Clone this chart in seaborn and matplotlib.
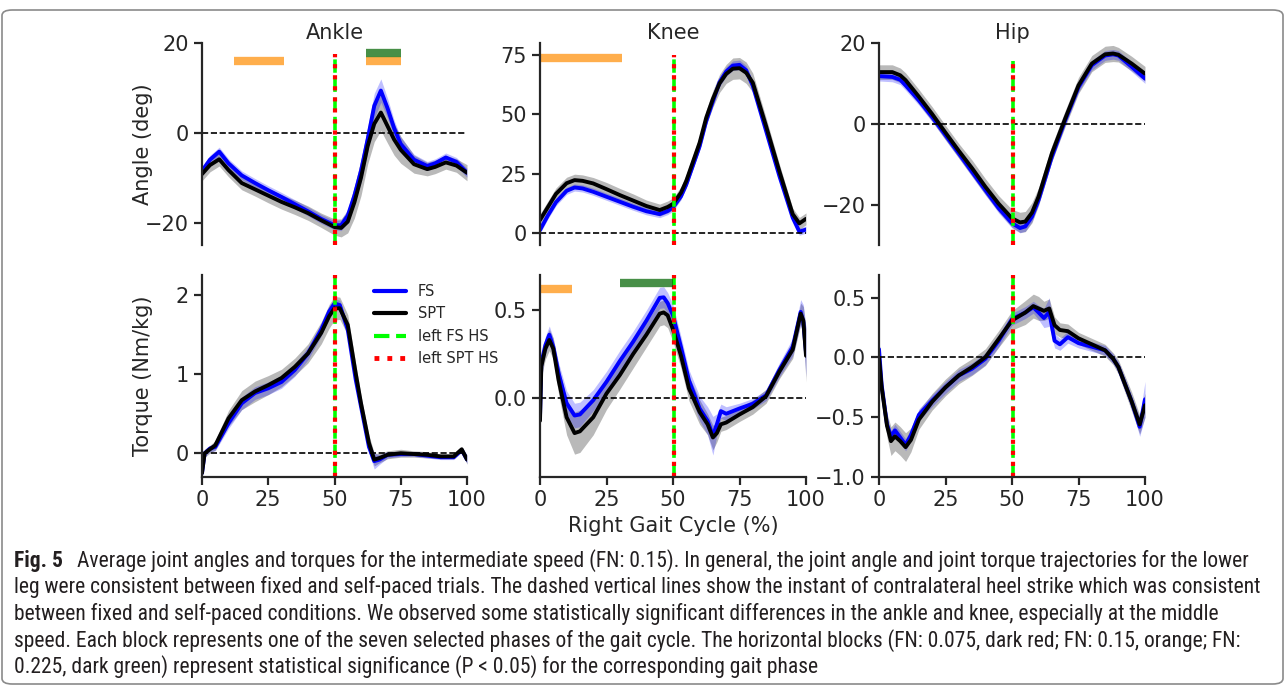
import numpy as np
import matplotlib
matplotlib.use('Agg')
import matplotlib.pyplot as plt
import seaborn as sns
from matplotlib import font_manager
from matplotlib.patches import FancyBboxPatch
from matplotlib.lines import Line2D

""" data read off the figure (mean and spread, FS vs SPT) """

# ankle angle (deg)
ank_ang_x = [0, 3, 6.5, 10, 15, 20, 25, 30, 35, 40, 45, 50, 52.5, 55, 57.5, 60, 62.5, 65, 67.5, 70, 72.5, 75, 80, 85, 88, 92, 96, 100]
ank_ang_fs = [-8.5, -6.0, -4.2, -6.8, -9.5, -11.2, -12.8, -14.3, -15.9, -17.5, -19.2, -20.6, -20.6, -18.5, -14.0, -8.5, -1.5, 6.0, 9.4, 5.5, 1.0, -2.5, -6.0, -7.4, -6.8, -5.5, -6.5, -8.9]
ank_ang_spt = [-9.2, -7.2, -5.9, -8.3, -11.2, -12.6, -14.0, -15.4, -16.6, -17.9, -19.5, -21.0, -21.2, -19.8, -15.5, -10.0, -3.0, 2.0, 4.5, 1.5, -1.5, -3.8, -7.0, -8.1, -7.6, -6.6, -7.3, -8.9]
ank_ang_fs_sd = [1.0, 1.0, 1.0, 1.0, 1.0, 1.0, 1.0, 1.0, 1.0, 1.0, 1.0, 1.0, 1.2, 1.5, 2.0, 2.5, 2.8, 2.8, 2.6, 2.2, 1.8, 1.5, 1.2, 1.0, 1.0, 1.0, 1.0, 1.0]
ank_ang_spt_sd = [1.5, 1.5, 1.5, 1.5, 1.5, 1.5, 1.6, 1.6, 1.6, 1.6, 1.6, 1.8, 2.0, 2.5, 3.5, 4.0, 4.0, 4.0, 4.0, 3.8, 3.5, 3.0, 2.0, 1.5, 1.5, 1.5, 1.5, 1.8]

# knee angle (deg)
kne_ang_x = [0, 3, 6, 10, 13, 16, 20, 25, 30, 35, 40, 45, 48, 50, 53, 55, 60, 62.5, 65, 67.5, 70, 72.5, 75, 77.5, 80, 85, 90, 95, 97.5, 100]
kne_ang_fs = [1.3, 7.5, 13.0, 17.8, 19.2, 18.8, 17.4, 15.3, 13.2, 11.1, 9.2, 8.0, 9.3, 10.8, 15.5, 20.5, 36.5, 47.2, 55.5, 63.5, 68.0, 70.5, 70.8, 68.5, 62.0, 43.0, 24.0, 6.5, 0.6, 1.5]
kne_ang_spt = [5.5, 11.0, 16.5, 21.0, 22.3, 22.0, 20.9, 18.5, 16.0, 13.7, 11.4, 9.7, 11.0, 12.3, 17.0, 22.0, 38.0, 48.6, 56.5, 63.0, 67.0, 69.2, 69.4, 67.5, 63.3, 45.0, 26.0, 8.0, 4.1, 6.0]
kne_ang_fs_sd = [1.5, 1.5, 1.5, 1.5, 1.5, 1.5, 1.5, 1.5, 1.5, 1.5, 1.5, 1.5, 1.5, 1.5, 1.5, 1.5, 1.5, 1.6, 1.8, 1.9, 2.0, 2.0, 2.0, 2.0, 2.0, 1.8, 1.5, 1.5, 1.5, 1.5]
kne_ang_spt_sd = [2.5, 2.5, 2.5, 2.5, 2.5, 2.5, 2.5, 2.8, 2.8, 2.8, 2.5, 2.5, 2.5, 2.5, 2.5, 2.8, 3.0, 3.2, 3.5, 3.8, 4.0, 4.5, 4.5, 4.5, 4.0, 3.5, 3.0, 2.5, 2.5, 2.5]

# hip angle (deg)
hip_ang_x = [0, 5, 8, 10, 15, 20, 25, 30, 35, 40, 45, 50, 53, 55, 57.5, 60, 65, 70, 75, 80, 85, 88, 90, 95, 100]
hip_ang_fs = [11.8, 11.6, 10.9, 9.5, 5.8, 1.7, -2.8, -7.3, -11.9, -16.4, -20.9, -24.6, -25.8, -25.4, -23.0, -18.8, -8.1, 0.9, 9.1, 14.5, 16.9, 17.2, 16.9, 14.1, 11.2]
hip_ang_spt = [12.8, 12.8, 12.0, 10.8, 6.7, 2.4, -2.2, -6.7, -11.0, -15.6, -19.8, -23.4, -24.4, -24.2, -22.0, -18.0, -7.3, 1.3, 9.5, 14.9, 17.2, 17.4, 17.1, 14.9, 12.4]
hip_ang_fs_sd = [1.2, 1.2, 1.2, 1.2, 1.2, 1.2, 1.2, 1.2, 1.2, 1.2, 1.2, 1.2, 1.2, 1.2, 1.2, 1.2, 1.2, 1.2, 1.2, 1.2, 1.2, 1.2, 1.2, 1.2, 1.2]
hip_ang_spt_sd = [1.8, 1.8, 1.8, 1.8, 1.8, 1.8, 1.8, 1.8, 2.0, 2.0, 2.0, 2.2, 2.5, 2.5, 2.5, 2.2, 2.0, 2.0, 2.0, 2.0, 2.0, 2.0, 1.8, 1.8, 1.8]

# ankle torque (Nm/kg)
ank_trq_x = [0, 1, 3, 5, 10, 15, 20, 25, 30, 35, 40, 45, 48, 50, 52, 55, 58, 60, 63, 65, 67, 70, 75, 80, 85, 90, 95, 98, 100]
ank_trq_fs = [-0.25, 0.0, 0.06, 0.08, 0.38, 0.63, 0.76, 0.82, 0.90, 1.05, 1.26, 1.56, 1.79, 1.89, 1.87, 1.56, 0.93, 0.59, 0.08, -0.10, -0.08, -0.02, -0.01, -0.01, -0.03, -0.05, -0.05, 0.04, -0.08]
ank_trq_spt = [-0.25, 0.0, 0.05, 0.10, 0.44, 0.67, 0.78, 0.86, 0.95, 1.09, 1.26, 1.52, 1.73, 1.83, 1.83, 1.62, 1.01, 0.63, 0.13, -0.08, -0.06, -0.02, 0.0, -0.01, -0.02, -0.04, -0.04, 0.05, -0.08]
ank_trq_fs_sd = [0.05, 0.04, 0.04, 0.05, 0.07, 0.08, 0.08, 0.08, 0.08, 0.08, 0.08, 0.08, 0.07, 0.06, 0.06, 0.07, 0.08, 0.08, 0.08, 0.10, 0.06, 0.04, 0.03, 0.03, 0.03, 0.03, 0.03, 0.03, 0.05]
ank_trq_spt_sd = [0.08, 0.05, 0.05, 0.06, 0.10, 0.12, 0.13, 0.12, 0.11, 0.11, 0.12, 0.14, 0.15, 0.15, 0.14, 0.13, 0.12, 0.10, 0.10, 0.08, 0.06, 0.05, 0.05, 0.04, 0.04, 0.03, 0.03, 0.03, 0.06]

# knee torque (Nm/kg)
kne_trq_x = [0, 0.5, 2, 3.5, 5, 7, 10, 13, 15, 20, 25, 30, 35, 40, 45, 46.5, 48, 50, 53, 56, 60, 63, 65, 66.5, 68, 70, 75, 80, 85, 90, 95, 98, 99, 100]
kne_trq_fs = [-0.11, 0.20, 0.30, 0.36, 0.29, 0.14, -0.03, -0.10, -0.094, -0.013, 0.092, 0.21, 0.32, 0.44, 0.57, 0.573, 0.54, 0.47, 0.29, 0.10, -0.06, -0.13, -0.215, -0.15, -0.075, -0.09, -0.06, -0.033, 0.015, 0.16, 0.29, 0.49, 0.43, 0.26]
kne_trq_spt = [-0.13, 0.18, 0.28, 0.33, 0.28, 0.10, -0.11, -0.20, -0.19, -0.11, 0.025, 0.13, 0.25, 0.36, 0.48, 0.487, 0.47, 0.39, 0.24, 0.054, -0.08, -0.15, -0.225, -0.20, -0.15, -0.14, -0.094, -0.052, 0.01, 0.15, 0.275, 0.48, 0.44, 0.24]
kne_trq_fs_sd = [0.05, 0.05, 0.05, 0.05, 0.05, 0.06, 0.07, 0.07, 0.07, 0.06, 0.06, 0.06, 0.06, 0.06, 0.06, 0.06, 0.06, 0.06, 0.06, 0.06, 0.07, 0.08, 0.11, 0.06, 0.04, 0.04, 0.03, 0.03, 0.03, 0.04, 0.05, 0.07, 0.10, 0.14]
kne_trq_spt_sd = [0.10, 0.06, 0.06, 0.06, 0.06, 0.08, 0.10, 0.12, 0.12, 0.10, 0.09, 0.08, 0.08, 0.07, 0.07, 0.07, 0.07, 0.07, 0.07, 0.07, 0.07, 0.06, 0.07, 0.05, 0.04, 0.04, 0.04, 0.04, 0.04, 0.04, 0.05, 0.06, 0.08, 0.15]

# hip torque (Nm/kg)
hip_trq_x = [0, 1, 3, 4.5, 6, 8, 10, 12, 15, 20, 25, 30, 35, 40, 45, 50, 55, 58, 60, 62, 64, 66, 68, 71, 75, 80, 85, 88, 90, 95, 98, 100]
hip_trq_fs = [0.07, -0.23, -0.56, -0.66, -0.61, -0.67, -0.73, -0.65, -0.48, -0.36, -0.25, -0.15, -0.094, -0.011, 0.14, 0.32, 0.376, 0.42, 0.376, 0.33, 0.38, 0.14, 0.11, 0.17, 0.12, 0.09, 0.06, -0.01, -0.08, -0.37, -0.58, -0.35]
hip_trq_spt = [0.0, -0.25, -0.57, -0.70, -0.66, -0.70, -0.75, -0.69, -0.52, -0.37, -0.25, -0.15, -0.08, 0.003, 0.155, 0.31, 0.376, 0.43, 0.41, 0.39, 0.41, 0.27, 0.23, 0.22, 0.16, 0.11, 0.06, -0.01, -0.08, -0.37, -0.56, -0.40]
hip_trq_fs_sd = [0.10, 0.05, 0.05, 0.05, 0.05, 0.05, 0.05, 0.05, 0.05, 0.05, 0.05, 0.05, 0.05, 0.05, 0.05, 0.05, 0.05, 0.05, 0.06, 0.08, 0.12, 0.06, 0.05, 0.05, 0.04, 0.04, 0.04, 0.04, 0.04, 0.05, 0.08, 0.15]
hip_trq_spt_sd = [0.06, 0.07, 0.10, 0.12, 0.12, 0.12, 0.12, 0.10, 0.08, 0.07, 0.07, 0.07, 0.07, 0.07, 0.07, 0.08, 0.10, 0.10, 0.10, 0.08, 0.08, 0.07, 0.06, 0.06, 0.05, 0.05, 0.05, 0.05, 0.06, 0.08, 0.08, 0.10]

# contralateral heel strike (% gait) and significant phases (start, end, FN level)
left_hs = 50.3
ank_ang_blocks = [(12, 31, 'FN 0.15'), (62, 75, 'FN 0.15'), (62, 75, 'FN 0.225')]
kne_ang_blocks = [(0, 12, 'FN 0.15'), (12, 31, 'FN 0.15')]
kne_trq_blocks = [(0, 12, 'FN 0.15'), (30, 50, 'FN 0.225')]

titles = ['Ankle', 'Knee', 'Hip']
ylabels = ['Angle (deg)', 'Torque (Nm/kg)']

caption_lines = [
    'Average joint angles and torques for the intermediate speed (FN: 0.15). In general, the joint angle and joint torque trajectories for the lower',
    'leg were consistent between fixed and self-paced trials. The dashed vertical lines show the instant of contralateral heel strike which was consistent',
    'between fixed and self-paced conditions. We observed some statistically significant differences in the ankle and knee, especially at the middle',
    'speed. Each block represents one of the seven selected phases of the gait cycle. The horizontal blocks (FN: 0.075, dark red; FN: 0.15, orange; FN:',
    '0.225, dark green) represent statistical significance (P < 0.05) for the corresponding gait phase',
]

""" plot """

sns.set_style('ticks')
plt.rcParams['font.family'] = ['DejaVu Sans']

block_colors = {'FN 0.15': ('darkorange', 0.7), 'FN 0.225': ('darkgreen', 0.72)}

panels = [
    dict(x=ank_ang_x, fs=ank_ang_fs, spt=ank_ang_spt, fs_sd=ank_ang_fs_sd, spt_sd=ank_ang_spt_sd,
         ylim=(-25, 20), yticks=[-20, 0, 20], hs_top=17.5, blocks=ank_ang_blocks,
         levels={'FN 0.15': 16.1, 'FN 0.225': 17.8}),
    dict(x=kne_ang_x, fs=kne_ang_fs, spt=kne_ang_spt, fs_sd=kne_ang_fs_sd, spt_sd=kne_ang_spt_sd,
         ylim=(-5, 80), yticks=[0, 25, 50, 75], hs_top=75, blocks=kne_ang_blocks,
         levels={'FN 0.15': 73.5}),
    dict(x=hip_ang_x, fs=hip_ang_fs, spt=hip_ang_spt, fs_sd=hip_ang_fs_sd, spt_sd=hip_ang_spt_sd,
         ylim=(-30, 20), yticks=[-20, 0, 20], hs_top=15.5, blocks=[], levels={}),
    dict(x=ank_trq_x, fs=ank_trq_fs, spt=ank_trq_spt, fs_sd=ank_trq_fs_sd, spt_sd=ank_trq_spt_sd,
         ylim=(-0.3, 2.25), yticks=[0, 1, 2], hs_top=None, blocks=[], levels={}),
    dict(x=kne_trq_x, fs=kne_trq_fs, spt=kne_trq_spt, fs_sd=kne_trq_fs_sd, spt_sd=kne_trq_spt_sd,
         ylim=(-0.45, 0.7), yticks=[0.0, 0.5], hs_top=None, blocks=kne_trq_blocks,
         levels={'FN 0.15': 0.62, 'FN 0.225': 0.656}),
    dict(x=hip_trq_x, fs=hip_trq_fs, spt=hip_trq_spt, fs_sd=hip_trq_fs_sd, spt_sd=hip_trq_spt_sd,
         ylim=(-1.0, 0.69), yticks=[-1.0, -0.5, 0.0, 0.5], hs_top=None, blocks=[], levels={}),
]

fig = plt.figure(figsize=(12.87, 6.87), dpi=100)

# axes boxes in pixels (left, top, right, bottom) of the original layout
W, H = 1287, 687
lefts = [202, 540, 879]
rights = [467, 806, 1145]
rows = [(43, 245), (275, 477)]

axes = []
for i, p in enumerate(panels):
    r, c = divmod(i, 3)
    top, bot = rows[r]
    ax = fig.add_axes([lefts[c] / W, 1 - bot / H, (rights[c] - lefts[c]) / W, (bot - top) / H])
    axes.append(ax)

    x = np.array(p['x'])
    fs, spt = np.array(p['fs']), np.array(p['spt'])
    fs_sd, spt_sd = np.array(p['fs_sd']), np.array(p['spt_sd'])

    ax.fill_between(x, spt - spt_sd, spt + spt_sd, color='gray', alpha=0.55, lw=0)
    ax.fill_between(x, fs - fs_sd, fs + fs_sd, color='blue', alpha=0.25, lw=0)
    sns.lineplot(x=x, y=fs, color='blue', lw=2.8, ax=ax, legend=False)
    sns.lineplot(x=x, y=spt, color='black', lw=2.8, ax=ax, legend=False)

    ax.axhline(0, color='black', ls='--', lw=1.2)

    ylo, yhi = p['ylim']
    top_y = p['hs_top'] if p['hs_top'] is not None else yhi
    ax.vlines(left_hs, ylo, top_y, color='lime', ls='--', lw=2.6)
    ax.vlines(left_hs, ylo, top_y, color='red', ls=':', lw=3.0)

    for start, end, lvl in p['blocks']:
        col, a = block_colors[lvl]
        ax.plot([start, end], [p['levels'][lvl]] * 2, color=col, alpha=a, lw=6, solid_capstyle='butt')

    ax.set_xlim(0, 100)
    ax.set_ylim(ylo, yhi)
    ax.set_yticks(p['yticks'])
    ax.set_xlabel('')
    ax.set_ylabel('')
    sns.despine(ax=ax)
    for s in ['left', 'bottom']:
        ax.spines[s].set_linewidth(1.6)
    ax.tick_params(labelsize=15, width=1.6, length=6)
    if r == 0:
        ax.spines['bottom'].set_visible(False)
        ax.set_xticks([])
        ax.set_title(titles[c], fontsize=15, pad=3)
    else:
        ax.set_xticks([0, 25, 50, 75, 100])
    if c == 0:
        ax.set_ylabel(ylabels[r], fontsize=15)
        ax.yaxis.set_label_coords(-0.185, 0.5)

axes[3].yaxis.set_major_formatter(matplotlib.ticker.FormatStrFormatter('%d'))
axes[4].set_xlabel('Right Gait Cycle (%)', fontsize=15, labelpad=4)

handles = [Line2D([], [], color='blue', lw=3),
           Line2D([], [], color='black', lw=3),
           Line2D([], [], color='lime', ls='--', lw=3),
           Line2D([], [], color='red', ls=':', lw=3.5)]
axes[3].legend(handles, ['FS', 'SPT', 'left FS HS', 'left SPT HS'], loc='upper left',
               bbox_to_anchor=(0.6, 1.02), frameon=False, fontsize=10.5, handlelength=2.2)

# rounded frame round the whole figure
fig.patches.append(FancyBboxPatch((2 / W, 3 / H), 1281 / W, 674 / H, boxstyle='round,pad=0,rounding_size=0.008',
                                  transform=fig.transFigure, fill=False, edgecolor='#8a8a8a', lw=1.2))

# caption in a narrow face, sized so the second line fills the width
names = {f.name for f in font_manager.fontManager.ttflist}
cap_font = next((n for n in ['Liberation Sans Narrow', 'Roboto Condensed', 'Open Sans Condensed'] if n in names), 'Liberation Sans')
fig.canvas.draw()
rend = fig.canvas.get_renderer()
probe = fig.text(0, 0, caption_lines[1], family=cap_font, fontsize=12)
cap_size = 12 * 1248 / probe.get_window_extent(rend).width
probe.remove()

line_y = [561, 587, 614, 641, 667]
fig.text(14 / W, 1 - line_y[0] / H, 'Fig. 5', family=cap_font, fontsize=cap_size, fontweight='bold', va='center', color='#231f20')
fig.text(77 / W, 1 - line_y[0] / H, caption_lines[0], family=cap_font, fontsize=cap_size, va='center', color='#231f20')
for ly, txt in zip(line_y[1:], caption_lines[1:]):
    fig.text(14 / W, 1 - ly / H, txt, family=cap_font, fontsize=cap_size, va='center', color='#231f20')

fig.savefig('out.png', dpi=100)
